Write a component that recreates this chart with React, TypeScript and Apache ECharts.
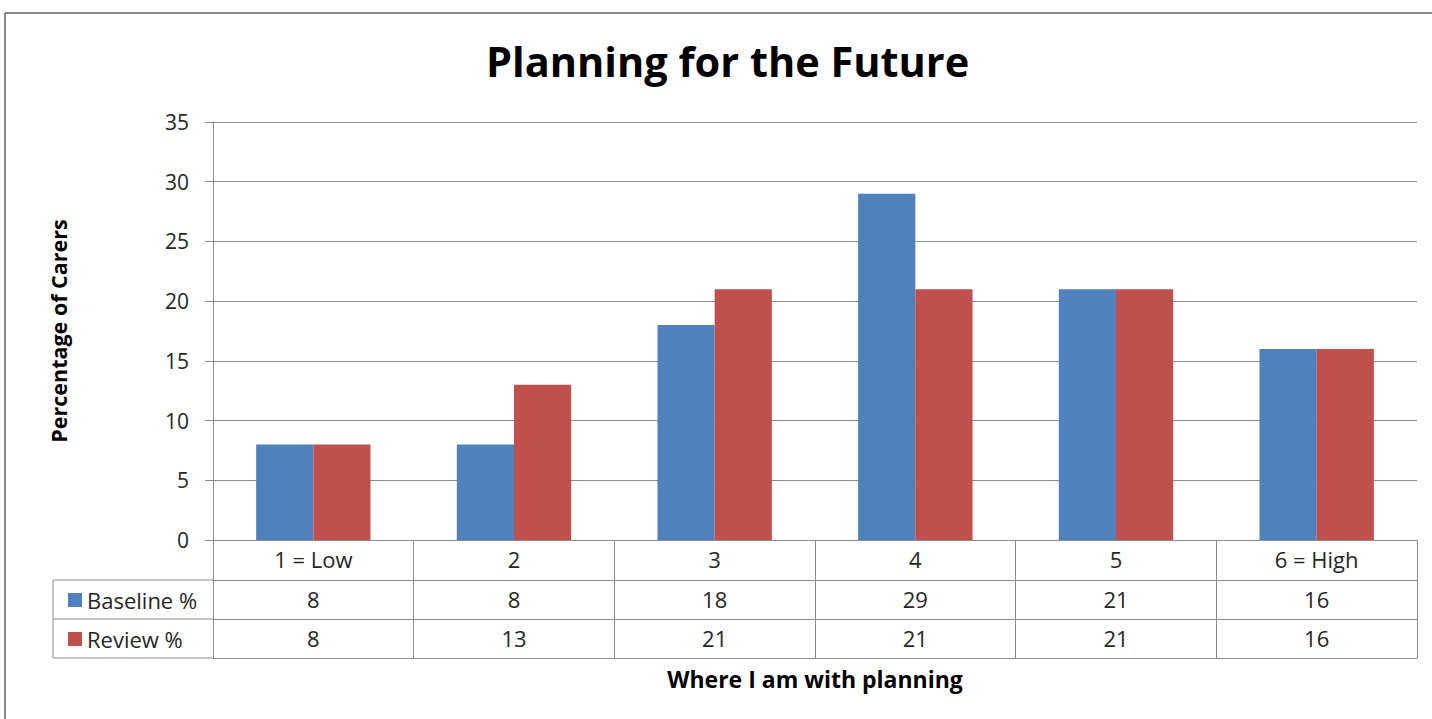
import React, { useEffect, useRef } from "react";
import * as echarts from "echarts";

const categories = ["1 = Low", "2", "3", "4", "5", "6 = High"];
const baseline = [8, 8, 18, 29, 21, 16];
const review = [8, 13, 21, 21, 21, 16];
const seriesNames = ["Baseline %", "Review %"];
const seriesColors = ["#4F81BD", "#C0504D"];
const yMin = 0;
const yMax = 35;
const yInterval = 5;
const title = "Planning for the Future";
const yName = "Percentage of Carers";
const xName = "Where I am with planning";

export default function App() {
  const ref = useRef<HTMLDivElement>(null);
  useEffect(() => {
    const chart = echarts.init(ref.current!, null, { renderer: "svg" });
    const font = "Open Sans";
    const textColor = "#262626";
    const lineColor = "#8c8c8c";
    const W = 1432;
    const H = 719;
    const gl = 213, gr = 1417, gt = 122, gb = 540;
    const rowH = [40, 79, 118];
    const tableLeft = 53;

    const tableAxis = (idx: number, data: (string | number)[], showLabel: boolean, extra: any = {}) => ({
      type: "category",
      gridIndex: 0,
      position: "bottom",
      offset: idx === 0 ? 0 : rowH[idx - 1],
      data: data.map(String),
      boundaryGap: true,
      axisLine: { show: true, lineStyle: { color: lineColor, width: 1 } },
      axisTick: idx === 0
        ? { show: true, alignWithLabel: false, length: rowH[2], lineStyle: { color: lineColor, width: 1 } }
        : { show: false },
      axisLabel: {
        show: showLabel,
        interval: 0,
        margin: 8,
        fontFamily: font,
        fontSize: 22,
        color: textColor,
      },
      splitLine: { show: false },
      ...extra,
    });

    chart.setOption({
      animation: false,
      backgroundColor: "#ffffff",
      title: {
        text: title,
        left: 481,
        top: 35,
        textStyle: { fontFamily: font, fontSize: 41.5, fontWeight: "bold", color: "#000" },
      },
      grid: { left: gl, right: W - gr, top: gt, bottom: H - gb, containLabel: false },
      legend: {
        orient: "vertical",
        left: 63,
        top: 584,
        itemWidth: 14,
        itemHeight: 14,
        itemGap: 17,
        icon: "rect",
        selectedMode: false,
        data: seriesNames,
        textStyle: { fontFamily: font, fontSize: 22, color: textColor, padding: [0, 0, 0, 0] },
      },
      xAxis: [
        tableAxis(0, categories, true),
        tableAxis(1, baseline, true),
        tableAxis(2, review, true),
        tableAxis(3, categories, false, {
          name: xName,
          nameLocation: "middle",
          nameGap: 9,
          nameTextStyle: { fontFamily: font, fontSize: 23, fontWeight: "bold", color: "#000", verticalAlign: "top" },
        }),
      ],
      yAxis: {
        type: "value",
        min: yMin,
        max: yMax,
        interval: yInterval,
        name: yName,
        nameLocation: "middle",
        nameGap: 144,
        nameTextStyle: { fontFamily: font, fontSize: 21.5, fontWeight: "bold", color: "#000" },
        axisLine: { show: true, lineStyle: { color: lineColor, width: 1 } },
        axisTick: { show: true, length: 8, lineStyle: { color: lineColor, width: 1 } },
        axisLabel: { margin: 24, fontFamily: font, fontSize: 21, color: textColor },
        splitLine: { show: true, lineStyle: { color: lineColor, width: 1 } },
      },
      series: [
        {
          name: seriesNames[0],
          type: "bar",
          data: baseline,
          xAxisIndex: 0,
          barGap: "0%",
          barCategoryGap: "43%",
          itemStyle: { color: seriesColors[0] },
        },
        {
          name: seriesNames[1],
          type: "bar",
          data: review,
          xAxisIndex: 0,
          barGap: "0%",
          barCategoryGap: "43%",
          itemStyle: { color: seriesColors[1] },
        },
      ],
      graphic: [
        { type: "line", shape: { x1: 5, y1: 13, x2: W, y2: 13 }, style: { stroke: "#8a8a8a", lineWidth: 2 } },
        { type: "line", shape: { x1: 5, y1: 13, x2: 5, y2: H }, style: { stroke: "#8a8a8a", lineWidth: 2 } },
        { type: "line", shape: { x1: tableLeft, y1: gb + rowH[0], x2: gl, y2: gb + rowH[0] }, style: { stroke: lineColor, lineWidth: 1 } },
        { type: "line", shape: { x1: tableLeft, y1: gb + rowH[1], x2: gl, y2: gb + rowH[1] }, style: { stroke: lineColor, lineWidth: 1 } },
        { type: "line", shape: { x1: tableLeft, y1: gb + rowH[2], x2: gl, y2: gb + rowH[2] }, style: { stroke: lineColor, lineWidth: 1 } },
        { type: "line", shape: { x1: tableLeft, y1: gb + rowH[0], x2: tableLeft, y2: gb + rowH[2] }, style: { stroke: lineColor, lineWidth: 1 } },
      ],
    });
    return () => chart.dispose();
  }, []);
  return (
    <div
      ref={ref}
      style={{ position: "fixed", left: 0, top: 0, width: 1432, height: 719, background: "#fff" }}
    />
  );
}
